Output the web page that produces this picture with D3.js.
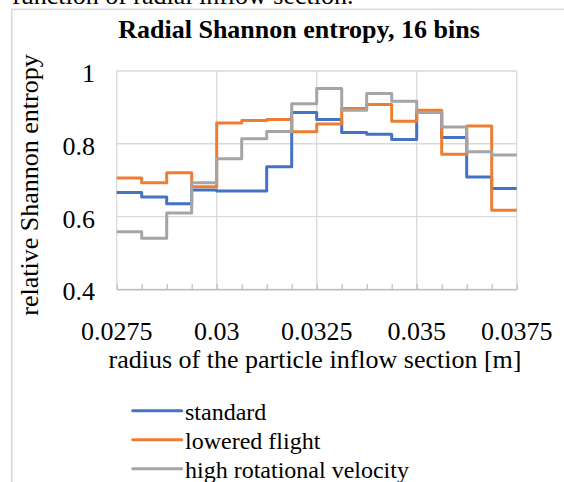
<!DOCTYPE html>
<html>
<head>
<meta charset="utf-8">
<script src="https://cdn.jsdelivr.net/npm/d3@7"></script>
<style>
  html, body { margin: 0; padding: 0; background: #fff; }
  svg { display: block; }
  svg text { font-family: "Liberation Serif", Tinos, "Times New Roman", Times, "DejaVu Serif", serif; fill: #000; }
</style>
</head>
<body>
<svg id="chart" width="564" height="482"></svg>
<script>
// ---- data ----
const binEdges = [0.0275, 0.028125, 0.02875, 0.029375, 0.03, 0.030625, 0.03125, 0.031875,
                  0.0325, 0.033125, 0.03375, 0.034375, 0.035, 0.035625, 0.03625, 0.036875, 0.0375];
const seriesNames = ["standard", "lowered flight", "high rotational velocity"];
const standard = [0.666, 0.654, 0.635, 0.673, 0.670, 0.670, 0.737, 0.886,
                  0.867, 0.831, 0.826, 0.812, 0.888, 0.817, 0.709, 0.677];
const loweredFlight = [0.706, 0.693, 0.720, 0.682, 0.857, 0.864, 0.867, 0.833,
                       0.854, 0.897, 0.908, 0.862, 0.892, 0.771, 0.849, 0.617];
const highRotational = [0.558, 0.540, 0.610, 0.693, 0.759, 0.814, 0.834, 0.910,
                        0.952, 0.892, 0.938, 0.917, 0.886, 0.846, 0.778, 0.769];
const xTicks = [0.0275, 0.03, 0.0325, 0.035, 0.0375];
const xTickLabels = ["0.0275", "0.03", "0.0325", "0.035", "0.0375"];
const yTicks = [0.4, 0.6, 0.8, 1];
const yTickLabels = ["0.4", "0.6", "0.8", "1"];
const colors = ["#4472C4", "#ED7D31", "#A5A5A5"];

const allSeries = [standard, loweredFlight, highRotational];

// ---- layout ----
const FONT = '"Liberation Serif", Tinos, "Times New Roman", Times, "DejaVu Serif", serif';
const svg = d3.select("#chart");
const plot = { left: 116.7, right: 516.7, top: 71, bottom: 289.3 };

const x = d3.scaleLinear().domain([0.0275, 0.0375]).range([plot.left, plot.right]);
const y = d3.scaleLinear().domain([0.4, 1]).range([plot.bottom, plot.top]);

// page text above the chart (cropped by the page edge, as in the reference)
svg.append("text").attr("x", 12).attr("y", 4).attr("font-size", 26).attr("font-family", FONT)
  .text("function of radial inflow section.");

// chart frame
svg.append("rect").attr("x", 11.7).attr("y", 9.3).attr("width", 600).attr("height", 600)
  .attr("fill", "#fff").attr("stroke", "#d9d9d9").attr("stroke-width", 1.6);

// title
svg.append("text").attr("x", 299).attr("y", 38).attr("text-anchor", "middle")
  .attr("font-size", 26).attr("font-weight", "bold").attr("font-family", FONT)
  .text("Radial Shannon entropy, 16 bins");

// gridlines
const g = svg.append("g");
g.selectAll("line.hgrid").data(yTicks).join("line")
  .attr("x1", plot.left).attr("x2", plot.right)
  .attr("y1", d => y(d)).attr("y2", d => y(d))
  .attr("stroke", "#d9d9d9").attr("stroke-width", 1.3);
g.selectAll("line.vgrid").data(xTicks).join("line")
  .attr("x1", d => x(d)).attr("x2", d => x(d))
  .attr("y1", plot.top).attr("y2", plot.bottom)
  .attr("stroke", "#d9d9d9").attr("stroke-width", 1.3);

// bottom axis with inward minor ticks at each bin edge
const xAxis = d3.axisBottom(x).tickValues(binEdges).tickSizeInner(-5).tickSizeOuter(0).tickFormat("");
const ax = svg.append("g").attr("transform", `translate(0,${plot.bottom})`).call(xAxis);
ax.select(".domain").attr("stroke", "#bfbfbf").attr("stroke-width", 1.5);
ax.selectAll(".tick line").attr("stroke", "#bfbfbf").attr("stroke-width", 1.3);

// x tick labels
svg.selectAll("text.xt").data(xTicks).join("text").attr("class", "xt")
  .attr("x", d => x(d)).attr("y", 340).attr("text-anchor", "middle").attr("font-size", 26)
  .attr("font-family", FONT)
  .text((d, i) => xTickLabels[i]);

// y tick labels
svg.selectAll("text.yt").data(yTicks).join("text").attr("class", "yt")
  .attr("x", 95).attr("y", d => y(d) + 11).attr("text-anchor", "end").attr("font-size", 26)
  .attr("font-family", FONT)
  .text((d, i) => yTickLabels[i]);

// axis titles
svg.append("text").attr("x", 315).attr("y", 368).attr("text-anchor", "middle").attr("font-size", 26)
  .attr("font-family", FONT)
  .text("radius of the particle inflow section [m]");
svg.append("text").attr("transform", "translate(38,185) rotate(-90)").attr("text-anchor", "middle")
  .attr("font-size", 26).attr("font-family", FONT).text("relative Shannon entropy");

// step lines
const line = d3.line().x(d => x(d[0])).y(d => y(d[1])).curve(d3.curveStepAfter);
allSeries.forEach((vals, si) => {
  const pts = vals.map((v, i) => [binEdges[i], v]);
  pts.push([binEdges[binEdges.length - 1], vals[vals.length - 1]]);
  svg.append("path").datum(pts).attr("d", line)
    .attr("fill", "none").attr("stroke", colors[si]).attr("stroke-width", 3)
    .attr("stroke-linejoin", "round");
});

// legend
const legY = [410.7, 439.7, 468.7];
seriesNames.forEach((name, i) => {
  svg.append("line").attr("x1", 132.7).attr("x2", 181.7).attr("y1", legY[i]).attr("y2", legY[i])
    .attr("stroke", colors[i]).attr("stroke-width", 3).attr("stroke-linecap", "round");
  svg.append("text").attr("x", 185).attr("y", legY[i] + 9.5).attr("font-size", 24)
    .attr("font-family", FONT).text(name);
});
</script>
</body>
</html>
